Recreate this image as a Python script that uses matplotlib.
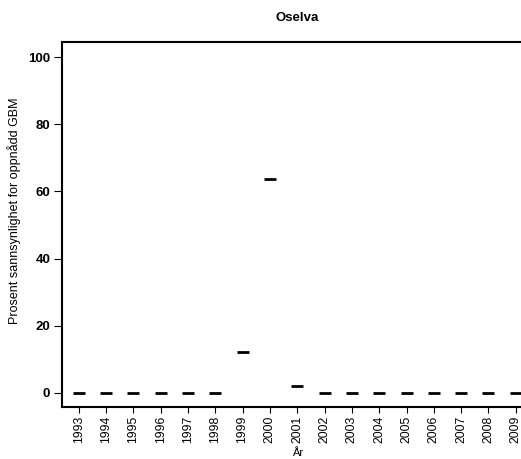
import matplotlib
matplotlib.use("Agg")
import matplotlib.pyplot as plt
import numpy as np

plt.rcParams['font.family'] = ['Liberation Sans', 'DejaVu Sans']

years = [str(y) for y in range(1993, 2010)]
values = [0, 0, 0, 0, 0, 0, 12.2, 63.8, 2.1, 0, 0, 0, 0, 0, 0, 0, 0]
yticks = [0, 20, 40, 60, 80, 100]

fig = plt.figure(figsize=(5.21, 4.59), dpi=100)
ax = fig.add_axes([0.119, 0.1133, 0.903, 0.7952])

x = np.arange(len(years))
half = 0.22
ax.hlines(values, x - half, x + half, colors='black', linewidth=2)

ax.set_xlim(-0.61, 16.61)
ax.set_ylim(-4.2, 104.5)
ax.set_xticks(x)
ax.set_xticklabels(years, rotation=90, fontsize=8.8)
ax.set_yticks(yticks)
ax.set_yticklabels([str(v) for v in yticks], fontsize=9.5, fontweight='bold')

for s in ['left', 'bottom', 'top', 'right']:
    ax.spines[s].set_linewidth(1.5)
ax.tick_params(axis='x', length=4, width=0.8, color='black', pad=2)
ax.tick_params(axis='y', length=5.5, width=0.8, color='black', pad=3)

ax.set_title('Oselva', fontsize=9.5, fontweight='bold', pad=15)
ax.set_xlabel('År', fontsize=8, labelpad=4)
ax.set_ylabel('Prosent sannsynlighet for oppnådd GBM', fontsize=9)
ax.yaxis.set_label_coords(-0.088, 0.538)

fig.savefig('out.png', dpi=100)
